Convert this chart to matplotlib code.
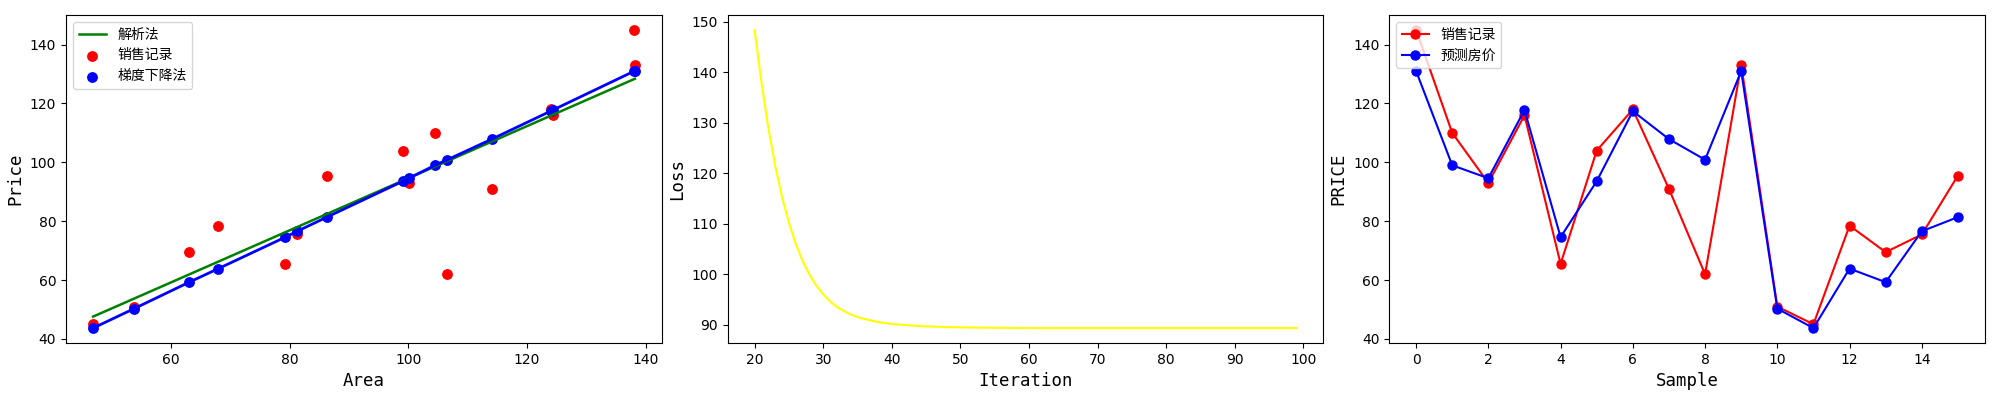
import matplotlib
matplotlib.use("Agg")
import matplotlib.pyplot as plt
from matplotlib import font_manager
import numpy as np

plt.rcParams['font.family'] = ['Noto Sans CJK SC', 'DejaVu Sans']
plt.rcParams['axes.unicode_minus'] = False

_names = {f.name for f in font_manager.fontManager.ttflist}
tick_family = 'Liberation Sans Narrow' if 'Liberation Sans Narrow' in _names else 'DejaVu Sans'
label_family = 'DejaVu Sans Mono'

# sample data (index order)
area = [138.1, 104.5, 100.1, 124.4, 79.3, 99.1, 124.0, 114.1, 106.6, 138.2,
        53.8, 46.9, 68.0, 63.1, 81.3, 86.3]
price = [145.0, 110.0, 93.0, 116.0, 65.5, 104.0, 118.0, 91.0, 62.0, 133.2,
         51.0, 45.0, 78.5, 69.5, 75.5, 95.5]
pred_gd = [131.0, 99.0, 94.6, 117.8, 74.6, 93.6, 117.4, 107.9, 100.9, 131.0,
           50.3, 43.7, 63.9, 59.3, 76.6, 81.4]

# analytic least-squares line endpoints
analytic_x = [46.9, 138.2]
analytic_y = [47.6, 128.4]

# loss curve
iterations = list(range(20, 100))
loss = [148.4, 138.0, 129.0, 121.5, 115.3, 110.2, 106.0, 102.6, 99.9, 97.7,
        96.0, 94.6, 93.5, 92.7, 92.0, 91.5, 91.1, 90.8, 90.5, 90.3,
        90.1, 90.0, 89.9, 89.8, 89.7, 89.65, 89.6, 89.55, 89.5, 89.47,
        89.45, 89.43, 89.41, 89.39, 89.37, 89.36, 89.35, 89.34, 89.33, 89.32,
        89.31, 89.31, 89.3, 89.3, 89.3, 89.3, 89.3, 89.3, 89.3, 89.3,
        89.3, 89.3, 89.3, 89.3, 89.3, 89.3, 89.3, 89.3, 89.3, 89.3,
        89.3, 89.3, 89.3, 89.3, 89.3, 89.3, 89.3, 89.3, 89.3, 89.3,
        89.3, 89.3, 89.3, 89.3, 89.3, 89.3, 89.3, 89.3, 89.3, 89.3]

fig, axes = plt.subplots(1, 3, figsize=(20, 4), dpi=100)
fig.subplots_adjust(left=0.033, right=0.9925, bottom=0.1425, top=0.9625, wspace=0.11)

ax = axes[0]
ax.plot(analytic_x, analytic_y, color='green', lw=1.8, label='解析法')
ax.scatter(area, price, color='red', s=46, label='销售记录')
ax.scatter(area, pred_gd, color='blue', s=46, label='梯度下降法')
order = np.argsort(area)
ax.plot(np.array(area)[order], np.array(pred_gd)[order], color='blue', lw=2)
ax.set_xlabel('Area', fontsize=12.5, family=label_family)
ax.set_ylabel('Price', fontsize=12.5, family=label_family)
ax.legend(loc='upper left', fontsize=10)

ax = axes[1]
ax.plot(iterations, loss, color='yellow', lw=1.5)
ax.set_xlabel('Iteration', fontsize=12.5, family=label_family)
ax.set_ylabel('Loss', fontsize=12.5, family=label_family)

ax = axes[2]
idx = list(range(len(price)))
ax.plot(idx, price, 'ro-', ms=6.5, label='销售记录')
ax.plot(idx, pred_gd, 'bo-', ms=6.5, label='预测房价')
ax.set_xlabel('Sample', fontsize=12.5, family=label_family)
ax.set_ylabel('PRICE', fontsize=12.5, family=label_family)
ax.legend(loc='upper left', fontsize=10)

for a in axes:
    for lab in a.get_xticklabels() + a.get_yticklabels():
        lab.set_family(tick_family)
        lab.set_fontsize(10)

fig.savefig('out.png', dpi=100)
